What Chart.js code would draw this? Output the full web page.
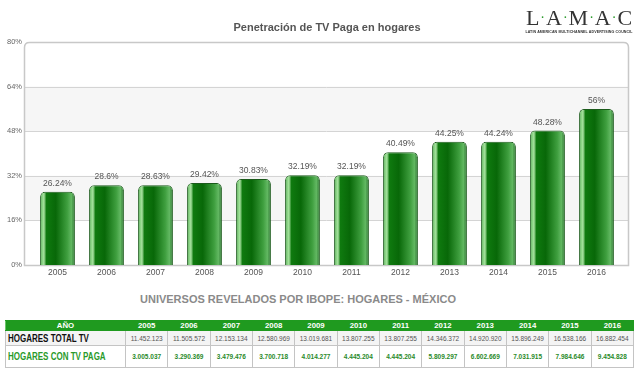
<!DOCTYPE html>
<html>
<head>
<meta charset="utf-8">
<script src="https://cdn.jsdelivr.net/npm/chart.js@4/dist/chart.umd.min.js"></script>
<style>
  html, body { margin: 0; padding: 0; background: #fff; }
  body { width: 640px; height: 373px; position: relative; overflow: hidden; font-family: "Liberation Sans", Arial, sans-serif; }
  #wrap { position: absolute; left: 0; top: 0; width: 640px; height: 290px; }
  #title { position: absolute; top: 21px; left: 0; width: 654px; text-align: center; font-weight: bold; font-size: 11px; color: #555; }
  #logo { position: absolute; left: 523px; top: 7px; width: 112px; text-align: center; }
  #logo .big { font-family: "Liberation Serif", "DejaVu Serif", serif; font-size: 22px; color: #333; line-height: 22px; }
  #logo .dot { color: #2a9a2a; font-size: 14px; vertical-align: 3px; margin: 0 1px; }
  #logo .small { font-size: 3.6px; font-weight: bold; color: #333; letter-spacing: 0.1px; white-space: nowrap; margin-top: 1px; }
  #ttitle { position: absolute; top: 293px; left: 0; width: 596px; text-align: center; font-weight: bold; font-size: 11px; color: #8a8a8a; }
  table { position: absolute; left: 5px; top: 320px; width: 629px; border-collapse: collapse; table-layout: fixed; }
  td, th { border: 1px solid #c4c4c4; text-align: center; padding: 0; overflow: hidden; white-space: nowrap; }
  th { background: #1f9a1f; color: #fff; font-size: 7.8px; font-weight: bold; height: 9px; line-height: 9px; border-color: #1f9a1f; border-left-color: #6cc66c; }
  tr.r1 td { background: #f4f4f4; height: 14px; font-size: 6.5px; color: #555; }
  tr.r2 td { background: #fff; height: 21px; font-size: 6.5px; color: #2a8a2a; font-weight: bold; }
  td.lab { text-align: left; padding-left: 2px; }
  td.lab span { display: inline-block; font-size: 10px; font-weight: bold; transform: scaleX(0.8); transform-origin: left center; }
  tr.r1 td.lab span { color: #111; }
  tr.r2 td.lab span { color: #2a9a2a; }
</style>
</head>
<body>
<div id="wrap"><canvas id="c" width="640" height="290"></canvas></div>
<div id="title">Penetración de TV Paga en hogares</div>
<div id="logo">
  <div class="big">L<span class="dot">·</span>A<span class="dot">·</span>M<span class="dot">·</span>A<span class="dot">·</span>C</div>
  <div class="small">LATIN AMERICAN MULTICHANNEL ADVERTISING COUNCIL</div>
</div>
<div id="ttitle">UNIVERSOS REVELADOS POR IBOPE: HOGARES - MÉXICO</div>
<table id="tbl"></table>
<script>
const years = ["2005","2006","2007","2008","2009","2010","2011","2012","2013","2014","2015","2016"];
const penetration = [26.24, 28.6, 28.63, 29.42, 30.83, 32.19, 32.19, 40.49, 44.25, 44.24, 48.28, 56];
const penetrationLabels = ["26.24%","28.6%","28.63%","29.42%","30.83%","32.19%","32.19%","40.49%","44.25%","44.24%","48.28%","56%"];
const yTicks = [0, 16, 32, 48, 64, 80];
const hogaresTotalTV = ["11.452.123","11.505.572","12.153.134","12.580.969","13.019.681","13.807.255","13.807.255","14.346.372","14.920.920","15.896.249","16.538.166","16.882.454"];
const hogaresTVPaga = ["3.005.037","3.290.369","3.479.476","3.700.718","4.014.277","4.445.204","4.445.204","5.809.297","6.602.669","7.031.915","7.984.646","9.454.828"];

// table
(function(){
  const t = document.getElementById('tbl');
  let html = '<colgroup><col style="width:120px">' + years.map(()=>'<col>').join('') + '</colgroup>';
  html += '<tr><th>AÑO</th>' + years.map(y=>'<th>'+y+'</th>').join('') + '</tr>';
  html += '<tr class="r1"><td class="lab"><span>HOGARES TOTAL TV</span></td>' + hogaresTotalTV.map(v=>'<td>'+v+'</td>').join('') + '</tr>';
  html += '<tr class="r2"><td class="lab"><span>HOGARES CON TV PAGA</span></td>' + hogaresTVPaga.map(v=>'<td>'+v+'</td>').join('') + '</tr>';
  t.innerHTML = html;
})();

const BAR_PCT = 0.71;
const FRAME_L = 24, FRAME_R = 629;
function barGradient(ctx) {
  const chart = ctx.chart;
  const xs = chart.scales && chart.scales.x;
  if (!xs || !chart.chartArea || typeof ctx.dataIndex !== 'number') return '#107a10';
  const cx = xs.getPixelForValue(ctx.dataIndex);
  const hw = (xs.width / years.length) * BAR_PCT / 2;
  if (!isFinite(cx) || !isFinite(hw)) return '#107a10';
  const g = chart.ctx.createLinearGradient(cx - hw, 0, cx + hw, 0);
  g.addColorStop(0, '#2f7f2f');
  g.addColorStop(0.05, '#7fcf7a');
  g.addColorStop(0.11, '#a8e2a0');
  g.addColorStop(0.18, '#0f7a0f');
  g.addColorStop(0.45, '#086808');
  g.addColorStop(0.78, '#3f9f3f');
  g.addColorStop(0.9, '#62b862');
  g.addColorStop(1, '#26702a');
  return g;
}

const bgPlugin = {
  id: 'bg',
  beforeDraw(chart) {
    const {ctx, scales: {y}} = chart;
    ctx.save();
    ctx.fillStyle = '#f6f6f6';
    [[48,64],[16,32]].forEach(([lo,hi]) => {
      const y1 = y.getPixelForValue(hi), y2 = y.getPixelForValue(lo);
      ctx.fillRect(FRAME_L, y1, FRAME_R - FRAME_L, y2 - y1);
    });
    ctx.strokeStyle = '#d4d4d4';
    ctx.lineWidth = 1;
    [16, 32, 48, 64].forEach(v => {
      const py = Math.round(y.getPixelForValue(v)) + 0.5;
      ctx.beginPath(); ctx.moveTo(FRAME_L, py); ctx.lineTo(FRAME_R, py); ctx.stroke();
    });
    ctx.restore();
  },
  beforeDatasetsDraw(chart) {
    const {ctx, chartArea: a} = chart;
    ctx.save();
    ctx.strokeStyle = '#c8c8c8';
    ctx.lineWidth = 1.5;
    const r = 5;
    const l = FRAME_L + 0.5, t = a.top + 0.5, rt = FRAME_R - 0.5, b = a.bottom + 0.5;
    ctx.beginPath();
    ctx.moveTo(l + r, t);
    ctx.lineTo(rt - r, t);
    ctx.quadraticCurveTo(rt, t, rt, t + r);
    ctx.lineTo(rt, b);
    ctx.lineTo(l, b);
    ctx.lineTo(l, t + r);
    ctx.quadraticCurveTo(l, t, l + r, t);
    ctx.stroke();
    ctx.restore();
  },
  afterDatasetsDraw(chart) {
    const {ctx} = chart;
    const meta = chart.getDatasetMeta(0);
    ctx.save();
    ctx.font = '8.5px "Liberation Sans", Arial, sans-serif';
    ctx.fillStyle = '#555';
    ctx.textAlign = 'center';
    ctx.textBaseline = 'bottom';
    meta.data.forEach((el, i) => {
      ctx.fillText(penetrationLabels[i], el.x, el.y - 4);
    });
    ctx.restore();
  }
};

new Chart(document.getElementById('c'), {
  type: 'bar',
  data: {
    labels: years,
    datasets: [{
      data: penetration,
      backgroundColor: barGradient,
      borderColor: '#1b5a1b',
      borderWidth: 1,
      borderSkipped: 'bottom',
      borderRadius: {topLeft: 5, topRight: 5, bottomLeft: 0, bottomRight: 0},
      barPercentage: BAR_PCT,
      categoryPercentage: 1
    }]
  },
  options: {
    responsive: false,
    animation: false,
    events: [],
    layout: { padding: { top: 42, right: 19, left: 0, bottom: 0 } },
    plugins: { legend: { display: false }, tooltip: { enabled: false }, title: { display: false } },
    scales: {
      x: {
        grid: { display: false, drawTicks: false, tickLength: 0 },
        border: { display: false },
        ticks: { color: '#555', font: { size: 8.5, family: '"Liberation Sans", Arial, sans-serif' }, padding: 3, maxRotation: 0 },
        afterFit(s) { s.height = 25; }
      },
      y: {
        min: 0, max: 80,
        afterBuildTicks(s) { s.ticks = yTicks.map(v => ({value: v})); },
        grid: { display: false, drawTicks: false, tickLength: 0 },
        border: { display: false },
        ticks: { color: '#666', font: { size: 7.5, family: '"Liberation Sans", Arial, sans-serif' }, padding: 11, callback: v => v + '%' },
        afterFit(s) { s.width = 33; }
      }
    }
  },
  plugins: [bgPlugin]
});
</script>
</body>
</html>
